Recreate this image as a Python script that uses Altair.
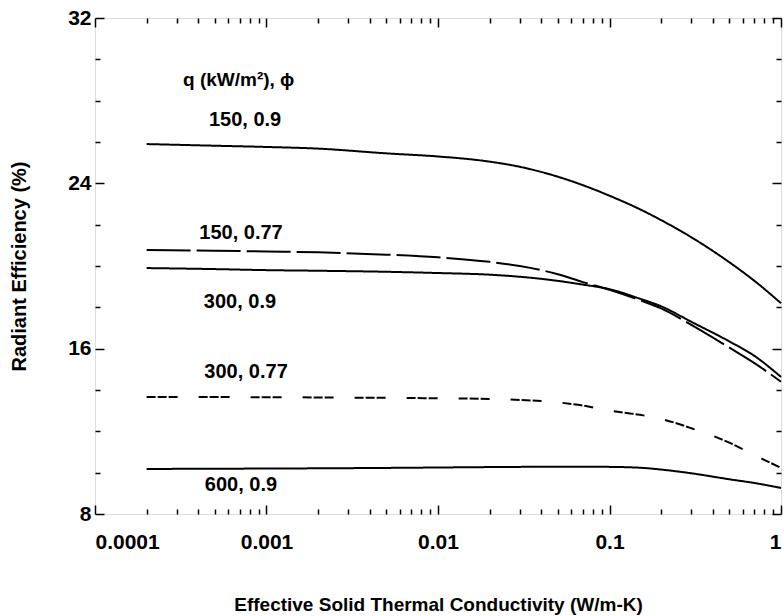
import altair as alt
import pandas as pd

# ---- data ----
k_values = [2e-4, 5e-4, 1e-3, 2e-3, 5e-3, 0.01, 0.02, 0.03, 0.05, 0.07,
            0.1, 0.15, 0.2, 0.3, 0.5, 0.7, 1.0]

eff_150_090 = [25.9, 25.82, 25.76, 25.68, 25.45, 25.3, 25.05, 24.8, 24.32, 23.91,
               23.4, 22.75, 22.22, 21.39, 20.18, 19.28, 18.2]
eff_150_077 = [20.78, 20.74, 20.7, 20.66, 20.55, 20.42, 20.2, 20.0, 19.6, 19.22,
               18.85, 18.35, 17.95, 17.15, 16.05, 15.3, 14.4]
eff_300_090 = [19.9, 19.85, 19.8, 19.77, 19.72, 19.66, 19.58, 19.48, 19.28, 19.1,
               18.88, 18.42, 18.05, 17.3, 16.35, 15.65, 14.63]
eff_300_077 = [13.66, 13.66, 13.65, 13.64, 13.62, 13.6, 13.57, 13.52, 13.4, 13.25,
               13.0, 12.8, 12.6, 12.15, 11.45, 10.85, 10.23]
eff_600_090 = [10.18, 10.19, 10.2, 10.21, 10.23, 10.25, 10.27, 10.28, 10.29, 10.29,
               10.28, 10.24, 10.15, 9.97, 9.68, 9.5, 9.26]

series_names = ["150, 0.9", "150, 0.77", "300, 0.9", "300, 0.77", "600, 0.9"]
series_values = [eff_150_090, eff_150_077, eff_300_090, eff_300_077, eff_600_090]
series_dash = [[1, 0], [44, 6], [1, 0], [9, 2, 9, 2, 9, 21], [1, 0]]

label_texts = ["150, 0.9", "150, 0.77", "300, 0.9", "300, 0.77", "600, 0.9"]
label_k = [7.5e-4, 7.1e-4, 7.0e-4, 7.6e-4, 7.1e-4]
label_eff = [27.07, 21.6, 18.26, 14.87, 9.41]

header_text = ["q (kW/m²), ϕ"]
header_k = [3.26e-4]
header_eff = [29.0]

x_major = [1e-4, 1e-3, 1e-2, 1e-1, 1]
x_minor = [m * d for d in [1e-4, 1e-3, 1e-2, 1e-1] for m in range(2, 10)]
y_major = [8, 16, 24, 32]
y_minor = [10, 12, 14, 18, 20, 22, 26, 28, 30]

# ---- tables ----
rows = []
for name, vals in zip(series_names, series_values):
    for k, v in zip(k_values, vals):
        rows.append({"k": k, "eff": v, "series": name})
df = pd.DataFrame(rows)
labels_df = pd.DataFrame({"k": label_k, "eff": label_eff, "text": label_texts})
header_df = pd.DataFrame({"k": header_k, "eff": header_eff, "text": header_text})

W, H = 686, 496
FONT = "Liberation Sans"

xscale = alt.Scale(type="log", domain=[1e-4, 1], nice=False)
yscale = alt.Scale(domain=[8, 32], nice=False, zero=False)


def xenc(axis):
    return alt.X("k:Q", scale=xscale, axis=axis)


def yenc(axis):
    return alt.Y("eff:Q", scale=yscale, axis=axis)


common = dict(domain=False, grid=False, tickColor="black", tickWidth=1.5)

lines = alt.Chart(df).mark_line(color="black", strokeWidth=2, interpolate="monotone").encode(
    x=xenc(alt.Axis(orient="bottom", values=x_major, format="~g", ticks=False, tickSize=0,
                    labelPadding=17, labelFontSize=21, labelFontWeight="bold",
                    title="Effective Solid Thermal Conductivity (W/m-K)",
                    titleFontSize=19, titleFontWeight="bold", titlePadding=43,
                    labelColor="black", titleColor="black", **common)),
    y=yenc(alt.Axis(orient="left", values=y_major, ticks=False, tickSize=0,
                    labelPadding=4, labelFontSize=21, labelFontWeight="bold",
                    title="Radiant Efficiency (%)", titleFontSize=20,
                    titleFontWeight="bold", titlePadding=38,
                    labelColor="black", titleColor="black", **common)),
    strokeDash=alt.StrokeDash("series:N", scale=alt.Scale(domain=series_names, range=series_dash),
                              legend=None),
    detail="series:N",
)


def tick_layer(xvals, yvals, size, xorient, yorient):
    return alt.Chart(df).mark_point(opacity=0).encode(
        x=xenc(alt.Axis(orient=xorient, offset=-H, values=xvals, labels=False,
                        tickSize=size, title=None, **common)),
        y=yenc(alt.Axis(orient=yorient, offset=-W, values=yvals, labels=False,
                        tickSize=size, title=None, **common)),
    )


t_bottom_major = tick_layer(x_major, y_major, 9, "top", "right")
t_bottom_minor = tick_layer(x_minor, y_minor, 5, "top", "right")
t_top_major = tick_layer(x_major, y_major, 9, "bottom", "left")
t_top_minor = tick_layer(x_minor, y_minor, 5, "bottom", "left")

labels = alt.Chart(labels_df).mark_text(font=FONT, fontSize=20, fontWeight="bold",
                                        align="center", baseline="middle", color="black").encode(
    x=xenc(None), y=yenc(None), text="text:N")

header = alt.Chart(header_df).mark_text(font=FONT, fontSize=19, fontWeight="bold",
                                        align="left", baseline="middle", color="black").encode(
    x=xenc(None), y=yenc(None), text="text:N")

chart = alt.layer(lines, t_bottom_major, t_bottom_minor, t_top_major, t_top_minor,
                  labels, header).resolve_axis(x="independent", y="independent").properties(
    width=W, height=H,
    autosize=alt.AutoSizeParams(type="none"),
    padding={"left": 95, "top": 18, "right": 784 - 95 - W, "bottom": 616 - 18 - H},
).configure_view(stroke="black", strokeWidth=2).configure_axis(
    labelFont=FONT, titleFont=FONT
).configure(background="white")

chart.save("out.html", embed_options={"renderer": "svg", "actions": False})
